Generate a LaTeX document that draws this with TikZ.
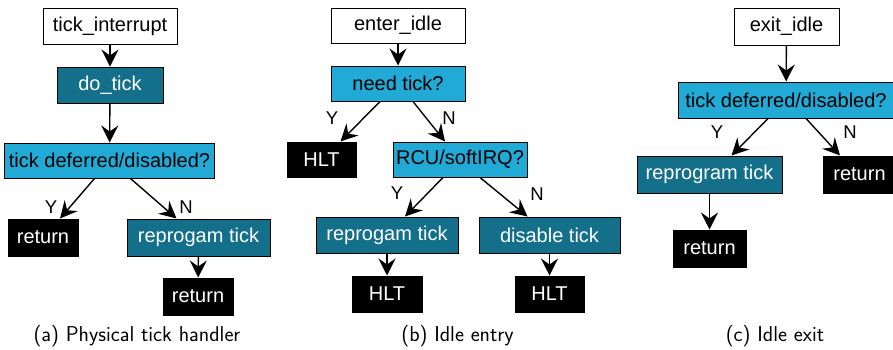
\documentclass[tikz,border=0pt]{standalone}
\usepackage{fontspec}
\newfontfamily\boxfont{Liberation Sans}
\usetikzlibrary{arrows.meta}
\definecolor{querycol}{RGB}{33,170,214}
\definecolor{actioncol}{RGB}{20,111,138}
\begin{document}
\begin{tikzpicture}[x=1pt,y=1pt,
  box/.style={draw=black, line width=1pt, inner sep=0pt, minimum height=36pt,
    font=\boxfont\fontsize{20}{24}\selectfont},
  entry/.style={box, fill=white, text=black},
  query/.style={box, fill=querycol, text=black},
  action/.style={box, fill=actioncol, text=white},
  stopbox/.style={box, fill=black, text=white},
  flow/.style={-{Stealth[length=17pt,width=17pt,inset=6pt]}, line width=1.4pt},
  yn/.style={font=\boxfont\fontsize{18.5}{20}\selectfont, inner sep=0pt},
  subcaption/.style={font=\sffamily\fontsize{21.5}{26}\selectfont, inner sep=0pt}]
\clip (0,0) rectangle (893,-349);
\fill[white] (0,0) rectangle (893,-349);

% (a) physical tick handler
\node[entry, minimum width=134pt] (ti) at (110,-26) {tick\_interrupt};
\node[action, minimum width=106pt] (dt) at (110,-85) {do\_tick};
\node[query, minimum width=210pt, minimum height=35pt] (qa) at (109.5,-160.5) {tick deferred/disabled?};
\node[stopbox, minimum width=70pt, minimum height=37pt] (ra1) at (43,-237.5) {return};
\node[action, minimum width=143pt, minimum height=37pt] (rpa) at (198.5,-237.5) {reprogam tick};
\node[stopbox, minimum width=70pt, minimum height=37pt] (ra2) at (198,-296.5) {return};
\node[yn] (ya) at (51,-207) {Y};
\node[yn] (na) at (186,-207) {N};
\draw[flow] (ti) -- (dt);
\draw[flow] (dt) -- (qa);
\draw[flow] ([xshift=-15pt]qa.south) -- ([xshift=17pt]ra1.north);
\draw[flow] ([xshift=21pt]qa.south) -- ([xshift=-22pt]rpa.north);
\draw[flow] (rpa) -- (ra2);
\node[subcaption] (capa) at (137,-336) {(a) Physical tick handler};

% (b) idle entry
\node[entry, minimum width=134pt, minimum height=35pt] (ei) at (398,-25.5) {enter\_idle};
\node[query, minimum width=134pt, minimum height=35pt] (nt) at (398,-83.5) {need tick?};
\node[stopbox, minimum width=69pt, minimum height=35pt] (hb1) at (321.5,-159.5) {HLT};
\node[query, minimum width=134pt, minimum height=35pt] (rcu) at (460,-159.5) {RCU/softIRQ?};
\node[action, minimum width=142pt] (rpb) at (387,-235) {reprogam tick};
\node[action, minimum width=141pt] (dis) at (549.5,-235) {disable tick};
\node[stopbox, minimum width=70pt] (hb2) at (387,-294) {HLT};
\node[stopbox, minimum width=69pt] (hb3) at (549.5,-294) {HLT};
\node[yn] (yb1) at (332,-118) {Y};
\node[yn] (nb1) at (449,-118) {N};
\node[yn] (yb2) at (397,-193) {Y};
\node[yn] (nb2) at (537,-194) {N};
\draw[flow] (ei) -- (nt);
\draw[flow] ([xshift=-18pt]nt.south) -- ([xshift=19pt]hb1.north);
\draw[flow] ([xshift=15pt]nt.south) -- ([xshift=-15pt]rcu.north);
\draw[flow] ([xshift=-17pt]rcu.south) -- ([xshift=18pt]rpb.north);
\draw[flow] ([xshift=20pt]rcu.south) -- ([xshift=-22pt]dis.north);
\draw[flow] (rpb) -- (hb2);
\draw[flow] (dis) -- (hb3);
\node[subcaption] (capb) at (457.5,-336) {(b) Idle entry};

% (c) idle exit
\node[entry, minimum width=105pt, minimum height=37pt] (ex) at (786.5,-26.5) {exit\_idle};
\node[query, minimum width=216pt] (qc) at (786,-100) {tick deferred/disabled?};
\node[action, minimum width=145pt, minimum height=37pt] (rpc) at (709.5,-174.5) {reprogram tick};
\node[stopbox, minimum width=73pt, minimum height=37pt] (rc1) at (859.5,-174.5) {return};
\node[stopbox, minimum width=73pt, minimum height=37pt] (rc2) at (709.5,-248.5) {return};
\node[yn] (yc) at (717,-132) {Y};
\node[yn] (nc) at (850,-132) {N};
\draw[flow] (ex) -- (qc);
\draw[flow] ([xshift=-18pt]qc.south) -- ([xshift=22pt]rpc.north);
\draw[flow] ([xshift=20pt]qc.south) -- ([xshift=-19.5pt]rc1.north);
\draw[flow] (rpc) -- (rc2);
\node[subcaption] (capc) at (775,-336) {(c) Idle exit};
\end{tikzpicture}
\end{document}
